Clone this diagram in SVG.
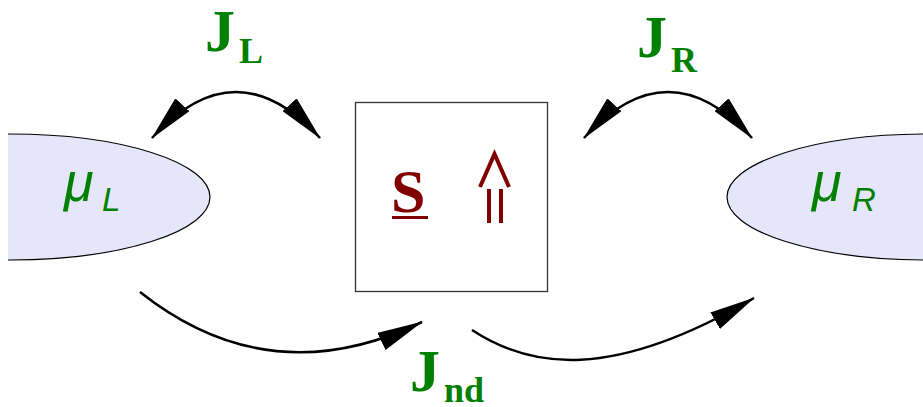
<svg xmlns="http://www.w3.org/2000/svg" width="923" height="407" viewBox="0 0 923 407">
<style>
.res{fill:#e6e6fa;stroke:#000;stroke-width:1.2}
.mu{font-family:"Liberation Sans",Arial,sans-serif;font-style:italic;fill:#008000}
.j{font-family:"Liberation Serif","Times New Roman",serif;font-weight:bold;fill:#008000}
.conn{fill:none;stroke:#000;stroke-width:2.5}
.spin{fill:none;stroke:#800000;stroke-width:4}
</style>
<defs>
<marker id="ah" viewBox="0 0 46 19" refX="45" refY="9.5" markerWidth="46" markerHeight="19" markerUnits="userSpaceOnUse" orient="auto-start-reverse">
<path d="M0,0 L46,9.5 L0,19 z" fill="#000"/>
</marker>
<clipPath id="clipL"><rect x="8" y="0" width="300" height="407"/></clipPath>
</defs>
<g id="reservoir-left">
<ellipse class="res" cx="10" cy="197" rx="200" ry="63" clip-path="url(#clipL)"/>
<text class="mu" x="64" y="201" font-size="54">μ<tspan x="102" y="211" font-size="33">L</tspan></text>
</g>
<g id="reservoir-right">
<ellipse class="res" cx="927" cy="197" rx="200" ry="63"/>
<text class="mu" x="812" y="201" font-size="54">μ<tspan x="852" y="211" font-size="33">R</tspan></text>
</g>
<g id="system">
<rect x="355.5" y="102.5" width="192" height="189" fill="#fff" stroke="#333" stroke-width="1.3"/>
<text x="391" y="212" font-family="'Liberation Serif','Times New Roman',serif" font-weight="bold" font-size="62" fill="#800000">S</text>
<line x1="392" y1="217.5" x2="428" y2="217.5" stroke="#800000" stroke-width="3"/>
<polyline class="spin" points="480,187 494.5,154 509,187"/>
<line class="spin" x1="489" y1="189" x2="489" y2="223"/>
<line class="spin" x1="501" y1="189" x2="501" y2="223"/>
</g>
<g id="connectors">
<path class="conn" d="M152,138 Q236,46 320,138" marker-start="url(#ah)" marker-end="url(#ah)"/>
<path class="conn" d="M584,138 Q668,46 752,138" marker-start="url(#ah)" marker-end="url(#ah)"/>
<path class="conn" d="M140,292 Q270,395 422,322" marker-end="url(#ah)"/>
<path class="conn" d="M472,330 C530,368 610,382 754,298" marker-end="url(#ah)"/>
</g>
<g id="labels">
<text class="j" x="205" y="51" font-size="60">J<tspan x="239" y="63" font-size="36">L</tspan></text>
<text class="j" x="637" y="57" font-size="60">J<tspan x="671" y="72" font-size="36">R</tspan></text>
<text class="j" x="410" y="391" font-size="60">J<tspan x="444" y="402" font-size="36">nd</tspan></text>
</g>
</svg>
